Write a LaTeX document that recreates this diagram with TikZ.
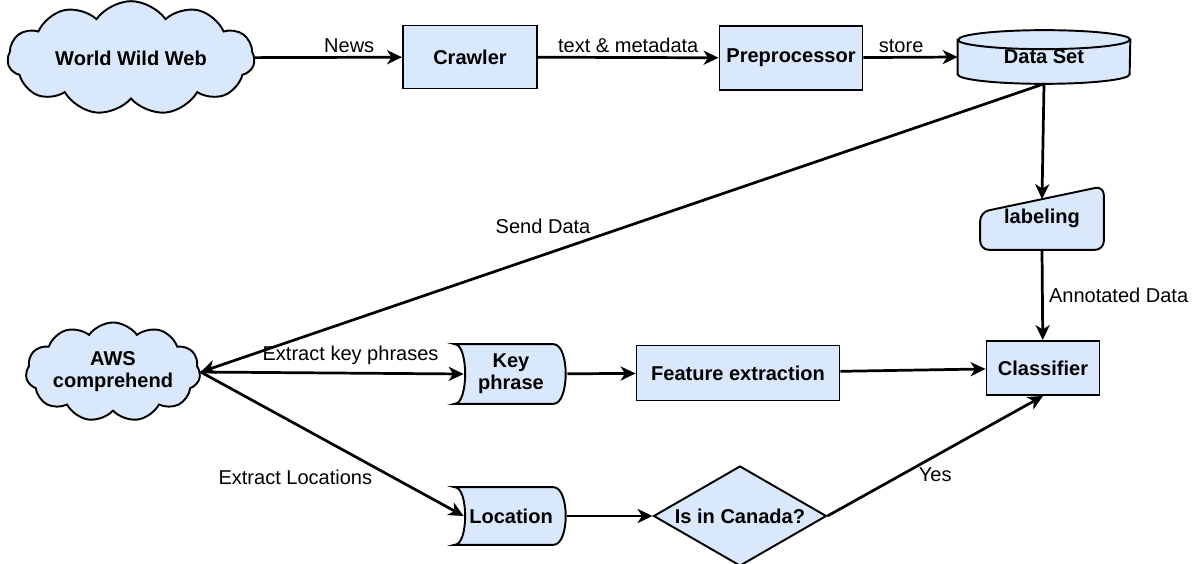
\documentclass[tikz,border=0pt]{standalone}
\usepackage{fontspec}
\setmainfont{Liberation Sans}
\usepackage{tikz}
\usetikzlibrary{shapes.geometric, shapes.symbols, arrows.meta, backgrounds, positioning}
\definecolor{boxbg}{RGB}{218, 232, 252}
\newcommand{\nodefont}{\fontsize{11.4}{12.5}\selectfont\bfseries}
\tikzstyle{process} = [rectangle, draw, fill=boxbg, line width=1.1pt, text centered, align=center, font=\nodefont]
\tikzstyle{bare} = [rectangle, text centered, align=center, font=\nodefont]
\tikzstyle{web} = [cloud, cloud puffs=11, cloud puff arc=110, draw, fill=boxbg, line width=1.1pt, inner sep=0pt, align=center, font=\nodefont]
\tikzstyle{decision} = [diamond, aspect=1.73, draw, fill=boxbg, line width=1.1pt, inner sep=0pt, font=\nodefont]
\tikzstyle{outline} = [draw, fill=boxbg, line width=1.1pt]
\tikzstyle{arrow} = [line width=1.55pt, -{Stealth[length=8.5pt, width=8pt, inset=2.5pt]}]
\tikzstyle{lbl} = [font=\fontsize{11.4}{13}\selectfont, inner sep=1pt]

\begin{document}
\begin{tikzpicture}[x=0.02cm, y=-0.02cm]
    \useasboundingbox (0,0) rectangle (1197,564);
    % Nodes
    \node (www) [web, aspect=2.5, minimum width=4.94cm, minimum height=1.94cm] at (131,58) {World Wild Web};
    \node (crawler) [process, minimum width=2.68cm, minimum height=1.26cm] at (470,57) {Crawler};
    \node (prep) [process, minimum width=2.86cm, minimum height=1.28cm] at (791,58) {Preprocessor};
    \node (dataset) [bare, minimum width=3.44cm, minimum height=1.06cm] at (1044,57) {Data Set};
    \node (labeling) [bare, minimum width=2.46cm, minimum height=1.26cm] at (1042,218) {labeling};
    \coordinate (labtop) at ([yshift=-0.26cm]labeling.north);
    \node (classifier) [process, minimum width=2.26cm, minimum height=1.08cm] at (1043,368) {Classifier};
    \node (aws) [web, aspect=2.2, minimum width=3.34cm, minimum height=1.54cm] at (113,372) {AWS\\comprehend};
    \node (keyphrase) [bare, minimum width=2.24cm, minimum height=1.18cm] at (511,374) {Key\\phrase};
    \node (feature) [process, minimum width=4.06cm, minimum height=1.1cm] at (738,373) {Feature extraction};
    \node (location) [bare, minimum width=2.24cm, minimum height=1.14cm] at (511,516) {Location};
    \node (canada) [decision, minimum width=3.46cm, minimum height=2cm] at (740,516) {Is in Canada?};

    % Shapes behind the bare nodes
    \begin{scope}[on background layer]
        \filldraw [outline] ([yshift=-0.19cm]dataset.north west) -- ([yshift=0.19cm]dataset.south west)
            arc[start angle=180, end angle=360, x radius=1.72cm, y radius=0.19cm]
            -- ([yshift=-0.19cm]dataset.north east)
            arc[start angle=0, end angle=180, x radius=1.72cm, y radius=0.19cm] -- cycle;
        \draw [line width=1.1pt] ([yshift=-0.19cm]dataset.north west)
            arc[start angle=180, end angle=360, x radius=1.72cm, y radius=0.19cm];
        \filldraw [outline, rounded corners=5pt] (labeling.south west) -- ([yshift=-0.52cm]labeling.north west)
            -- (labeling.north east) -- (labeling.south east) -- cycle;
        \foreach \n in {keyphrase, location} {
            \filldraw [outline] (\n.north west) -- ([xshift=-0.28cm]\n.north east)
                .. controls ([xshift=0.05cm]\n.north east) and ([xshift=0.05cm]\n.south east) .. ([xshift=-0.28cm]\n.south east)
                -- (\n.south west)
                .. controls ([xshift=0.28cm]\n.south west) and ([xshift=0.28cm]\n.north west) .. cycle;
        }
    \end{scope}

    % Arrows
    \draw [arrow] (www) -- node[lbl, above=1pt, pos=0.64] {News} (crawler);
    \draw [arrow] (crawler) -- node[lbl, above=1pt] {text \& metadata} (prep);
    \draw [arrow] (prep) -- node[lbl, above=1pt, pos=0.4] {store} (dataset.west);
    \draw [arrow] (dataset.south) -- (labtop);
    \draw [arrow] (dataset.south) -- node[lbl, pos=0.594, above=0.36cm] {Send Data} (aws.east);
    \draw [arrow] (labeling.south) -- node[lbl, right=2pt] {Annotated Data} (classifier);
    \draw [arrow] (aws.east) -- node[lbl, pos=0.57, above=3pt] {Extract key phrases} ([xshift=0.18cm]keyphrase.west);
    \draw [arrow] (keyphrase) -- (feature);
    \draw [arrow] (feature) -- (classifier);
    \draw [arrow] (aws.east) -- node[lbl, pos=0.36, below=0.86cm] {Extract Locations} ([xshift=0.18cm]location.west);
    \draw [arrow] (location) -- (canada);
    \draw [arrow] (canada.east) -- node[lbl, below=0.18cm] {Yes} (classifier.south);
\end{tikzpicture}
\end{document}
